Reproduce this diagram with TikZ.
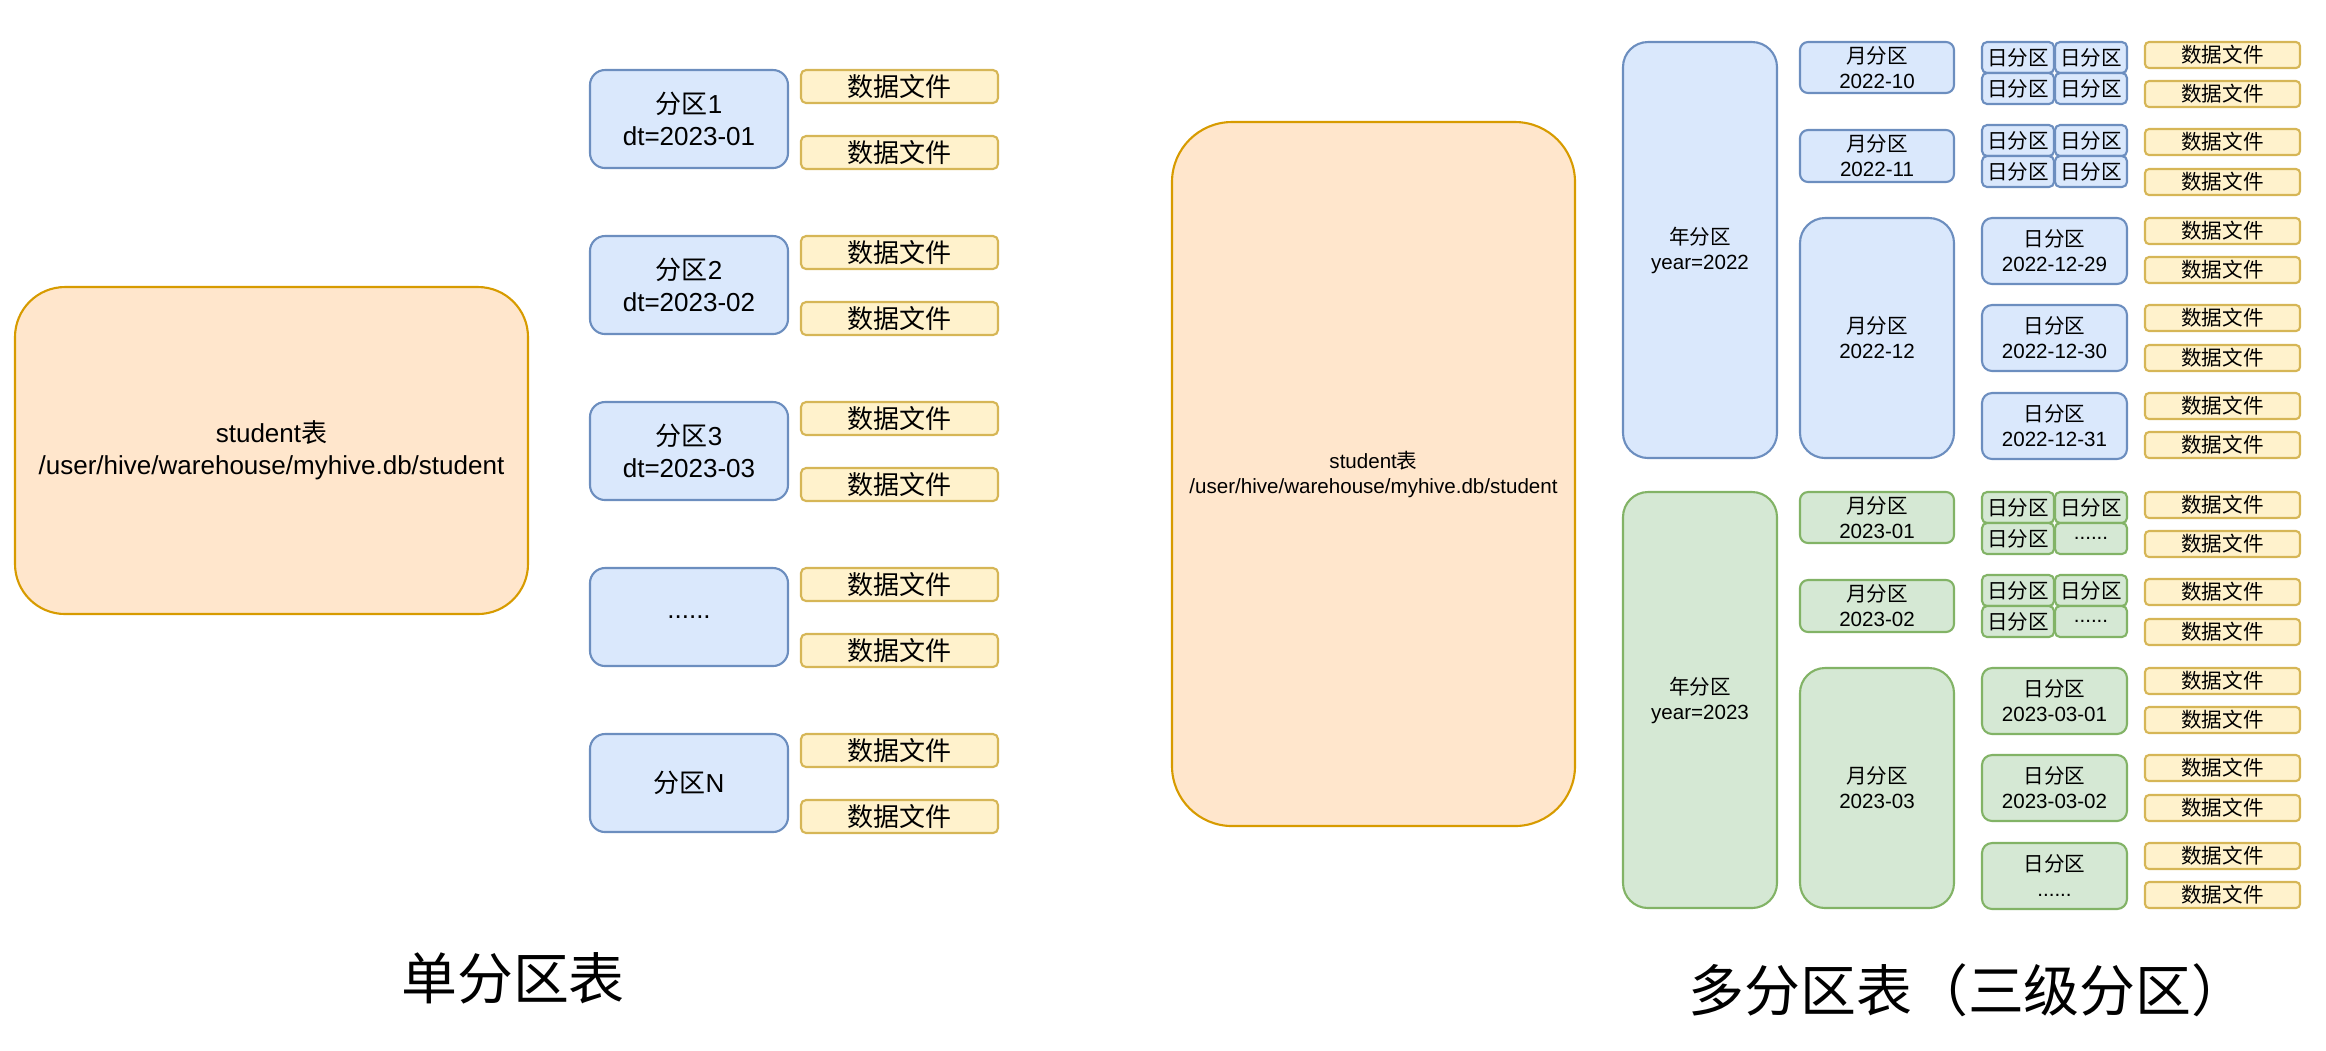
\documentclass[tikz,border=0pt]{standalone}
\usepackage{fontspec}
\setmainfont{Liberation Sans}
\newfontfamily\cjk{Noto Sans CJK SC}
\usepackage{tikz}

\definecolor{orangeFill}{HTML}{FFE6CC}
\definecolor{orangeLine}{HTML}{D79B00}
\definecolor{blueFill}{HTML}{DAE8FC}
\definecolor{blueLine}{HTML}{6C8EBF}
\definecolor{greenFill}{HTML}{D5E8D4}
\definecolor{greenLine}{HTML}{82B366}
\definecolor{yellowFill}{HTML}{FFF2CC}
\definecolor{yellowLine}{HTML}{D6B656}

\newcommand\sixdots{......}

\begin{document}
\begin{tikzpicture}[x=0.01cm, y=-0.01cm,
    every node/.style={inner sep=0pt, outer sep=0pt, anchor=north west, align=center, line width=0.6pt},
    box/.style 2 args={minimum width=#1*0.01cm, minimum height=#2*0.01cm},
    big/.style={font=\fontsize{7.4}{9.1}\selectfont},
    small/.style={font=\fontsize{5.85}{7.1}\selectfont},
    tbl/.style={draw=orangeLine, fill=orangeFill},
    part/.style={draw=#1Line, fill=#1Fill},
    datafile/.style={draw=yellowLine, fill=yellowFill},
    title/.style={anchor=center, font=\fontsize{15.9}{19}\selectfont\cjk}
    ]
\useasboundingbox (0,0) rectangle (2326,1050);

% single partition table
\node[tbl, big, box={513}{327}, rounded corners=0.5cm] (tbl1) at (15,287)
    {student{\cjk 表}\\/user/hive/warehouse/myhive.db/student};
\foreach \lbl [count=\i from 0] in {{{\cjk 分区}1\\dt=2023-01},{{\cjk 分区}2\\dt=2023-02},
    {{\cjk 分区}3\\dt=2023-03},\sixdots,{{\cjk 分区}N}}
{
  \node[part=blue, big, box={198}{98}, rounded corners=0.15cm] (p\i) at (590,70+166*\i) {\lbl};
  \node[datafile, big, box={197}{33}, rounded corners=0.05cm] (p\i-a) at (801,70+166*\i) {\cjk 数据文件};
  \node[datafile, big, box={197}{33}, rounded corners=0.05cm] (p\i-b) at (801,136+166*\i) {\cjk 数据文件};
}
\node[title] (title1) at (513,978) {单分区表};

% multi partition table (year / month / day)
\node[tbl, small, box={403}{704}, rounded corners=0.6cm] (tbl2) at (1172,122)
    {student{\cjk 表}\\/user/hive/warehouse/myhive.db/student};
\foreach \yr/\dy/\col/\ma/\mb/\mc/\da/\db/\dc/\dx in
    {2022/0/blue/10/11/12/{2022-12-29}/{2022-12-30}/{2022-12-31}/{\cjk 日分区},
     2023/450/green/01/02/03/{2023-03-01}/{2023-03-02}/\sixdots/\sixdots}
{
  \node[part=\col, small, box={154}{416}, rounded corners=0.25cm] (y\yr) at (1623,42+\dy) {{\cjk 年分区}\\year=\yr};
  \node[part=\col, small, box={154}{51}, rounded corners=0.08cm] (m\yr-a) at (1800,42+\dy) {{\cjk 月分区}\\\yr-\ma};
  \node[part=\col, small, box={154}{52}, rounded corners=0.08cm] (m\yr-b) at (1800,130+\dy) {{\cjk 月分区}\\\yr-\mb};
  \node[part=\col, small, box={154}{240}, rounded corners=0.25cm] (m\yr-c) at (1800,218+\dy) {{\cjk 月分区}\\\yr-\mc};
  % small day cells
  \foreach \gy/\g in {42/a,125/b}
  {
    \node[part=\col, small, box={72}{31}, rounded corners=0.05cm] (d\yr\g1) at (1982,\gy+\dy) {\cjk 日分区};
    \node[part=\col, small, box={72}{31}, rounded corners=0.05cm] (d\yr\g2) at (2055,\gy+\dy) {\cjk 日分区};
    \node[part=\col, small, box={72}{31}, rounded corners=0.05cm] (d\yr\g3) at (1982,\gy+31+\dy) {\cjk 日分区};
    \node[part=\col, small, box={72}{31}, rounded corners=0.05cm] (d\yr\g4) at (2055,\gy+31+\dy) {\dx};
  }
  \node[part=\col, small, box={145}{66}, rounded corners=0.1cm] (d\yr c) at (1982,218+\dy) {{\cjk 日分区}\\\da};
  \node[part=\col, small, box={145}{66}, rounded corners=0.1cm] (d\yr d) at (1982,305+\dy) {{\cjk 日分区}\\\db};
  \node[part=\col, small, box={145}{66}, rounded corners=0.1cm] (d\yr e) at (1982,393+\dy) {{\cjk 日分区}\\\dc};
  \foreach \t [count=\j] in {42,81,129,169,218,257,305,345,393,432}
    \node[datafile, small, box={155}{26}, rounded corners=0.04cm] (f\yr-\j) at (2145,\t+\dy) {\cjk 数据文件};
}
\node[title] (title2) at (1968,990) {多分区表（三级分区）};
\end{tikzpicture}
\end{document}
